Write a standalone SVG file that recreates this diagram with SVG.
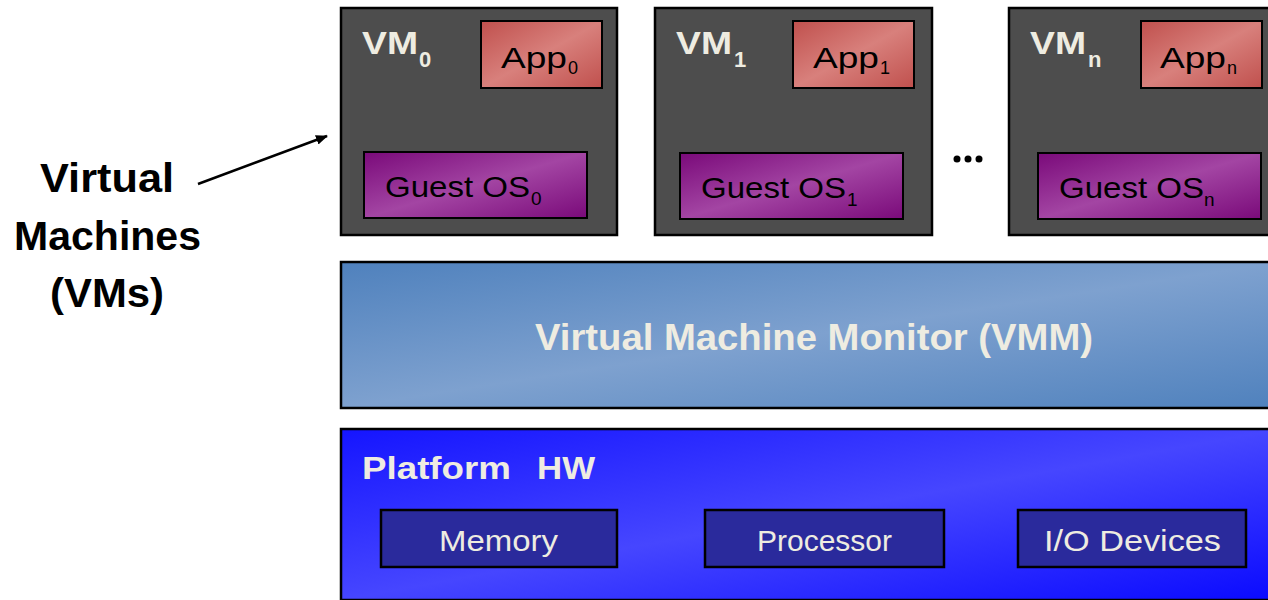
<svg xmlns="http://www.w3.org/2000/svg" width="1268" height="600" viewBox="0 0 1268 600">
  <defs>
    <linearGradient id="gApp" x1="0" y1="0" x2="1" y2="1">
      <stop offset="0" stop-color="#c0504d"/>
      <stop offset="0.5" stop-color="#d8807c"/>
      <stop offset="1" stop-color="#c0504d"/>
    </linearGradient>
    <linearGradient id="gOS" x1="0" y1="0" x2="1" y2="1">
      <stop offset="0" stop-color="#7a0a7a"/>
      <stop offset="0.5" stop-color="#a345a3"/>
      <stop offset="1" stop-color="#7a0a7a"/>
    </linearGradient>
    <linearGradient id="gVMM" x1="0" y1="0" x2="1" y2="1">
      <stop offset="0" stop-color="#4f81bd"/>
      <stop offset="0.5" stop-color="#7ea1cf"/>
      <stop offset="1" stop-color="#4f81bd"/>
    </linearGradient>
    <linearGradient id="gHW" x1="0" y1="0" x2="1" y2="1">
      <stop offset="0" stop-color="#1515ff"/>
      <stop offset="0.5" stop-color="#4646ff"/>
      <stop offset="1" stop-color="#0a0aff"/>
    </linearGradient>
    <marker id="arrow" markerWidth="12" markerHeight="10" refX="11" refY="5" orient="auto" markerUnits="userSpaceOnUse">
      <path d="M0,0 L12,5 L0,10 z" fill="#000"/>
    </marker>
  </defs>
  <style>
    text { font-family: "Liberation Sans", Arial, sans-serif; }
    .vm { fill: #4d4d4d; stroke: #000; stroke-width: 2.5; }
    .app { fill: url(#gApp); stroke: #000; stroke-width: 2; }
    .os { fill: url(#gOS); stroke: #000; stroke-width: 2; }
    .hwbox { fill: #2a2a9c; stroke: #000; stroke-width: 2.5; }
    .vmlabel { font-weight: bold; font-size: 32px; fill: #eeece1; }
    .vmsub { font-weight: bold; font-size: 22px; fill: #eeece1; }
    .inner { font-size: 30px; fill: #000; }
    .appsub { font-size: 18px; fill: #000; }
    .ossub { font-size: 19px; fill: #000; }
    .light { font-size: 29px; fill: #eeece1; }
    .side { font-weight: bold; font-size: 40px; fill: #000; }
  </style>

  <!-- side caption -->
  <g id="caption">
    <text class="side" x="40" y="192" textLength="134" lengthAdjust="spacingAndGlyphs">Virtual</text>
    <text class="side" x="14" y="250" textLength="187" lengthAdjust="spacingAndGlyphs">Machines</text>
    <text class="side" x="50" y="307" textLength="114" lengthAdjust="spacingAndGlyphs">(VMs)</text>
  </g>

  <!-- virtual machine 0 -->
  <g id="vm0">
    <rect class="vm" x="341" y="8" width="276" height="227"/>
    <text class="vmlabel" x="362" y="54" textLength="56" lengthAdjust="spacingAndGlyphs">VM</text>
    <text class="vmsub" x="419" y="67">0</text>
    <rect class="app" x="481" y="21" width="121" height="67"/>
    <text class="inner" x="501" y="68" textLength="66" lengthAdjust="spacingAndGlyphs">App</text>
    <text class="appsub" x="568" y="74">0</text>
    <rect class="os" x="364" y="152" width="223" height="66"/>
    <text class="inner" x="385" y="197" textLength="145" lengthAdjust="spacingAndGlyphs">Guest OS</text>
    <text class="ossub" x="531" y="205">0</text>
  </g>

  <!-- virtual machine 1 -->
  <g id="vm1">
    <rect class="vm" x="655" y="8" width="277" height="227"/>
    <text class="vmlabel" x="676" y="54" textLength="56" lengthAdjust="spacingAndGlyphs">VM</text>
    <text class="vmsub" x="734" y="67">1</text>
    <rect class="app" x="793" y="21" width="121" height="67"/>
    <text class="inner" x="813" y="68" textLength="66" lengthAdjust="spacingAndGlyphs">App</text>
    <text class="appsub" x="880" y="74">1</text>
    <rect class="os" x="680" y="153" width="223" height="66"/>
    <text class="inner" x="701" y="198" textLength="145" lengthAdjust="spacingAndGlyphs">Guest OS</text>
    <text class="ossub" x="847" y="206">1</text>
  </g>

  <!-- ellipsis between VMs -->
  <g id="ellipsis" fill="#000">
    <circle cx="957" cy="159" r="3.5"/>
    <circle cx="968" cy="159" r="3.5"/>
    <circle cx="979" cy="159" r="3.5"/>
  </g>

  <!-- virtual machine n -->
  <g id="vmn">
    <rect class="vm" x="1009" y="8" width="280" height="227"/>
    <text class="vmlabel" x="1030" y="54" textLength="56" lengthAdjust="spacingAndGlyphs">VM</text>
    <text class="vmsub" x="1088" y="67">n</text>
    <rect class="app" x="1141" y="21" width="121" height="67"/>
    <text class="inner" x="1160" y="68" textLength="66" lengthAdjust="spacingAndGlyphs">App</text>
    <text class="appsub" x="1227" y="74">n</text>
    <rect class="os" x="1038" y="153" width="223" height="66"/>
    <text class="inner" x="1059" y="198" textLength="145" lengthAdjust="spacingAndGlyphs">Guest OS</text>
    <text class="ossub" x="1204" y="206">n</text>
  </g>

  <!-- hypervisor layer -->
  <g id="vmm">
    <rect x="341" y="262" width="940" height="146" fill="url(#gVMM)" stroke="#000" stroke-width="2.5"/>
    <text x="535" y="350" font-weight="bold" font-size="36" fill="#eeece1" textLength="558" lengthAdjust="spacingAndGlyphs">Virtual Machine Monitor (VMM)</text>
  </g>

  <!-- hardware layer -->
  <g id="platform">
    <rect x="341" y="429" width="940" height="171" fill="url(#gHW)" stroke="#000" stroke-width="2.5"/>
    <text x="362" y="479" font-weight="bold" font-size="32" fill="#eeece1" textLength="149" lengthAdjust="spacingAndGlyphs">Platform</text>
    <text x="537" y="479" font-weight="bold" font-size="32" fill="#eeece1" textLength="58" lengthAdjust="spacingAndGlyphs">HW</text>
  </g>
  <g id="memory">
    <rect class="hwbox" x="381" y="510" width="236" height="57"/>
    <text class="light" x="439" y="551" textLength="119" lengthAdjust="spacingAndGlyphs">Memory</text>
  </g>
  <g id="processor">
    <rect class="hwbox" x="705" y="510" width="239" height="57"/>
    <text class="light" x="757" y="551" textLength="135" lengthAdjust="spacingAndGlyphs">Processor</text>
  </g>
  <g id="io">
    <rect class="hwbox" x="1018" y="510" width="228" height="57"/>
    <text class="light" x="1044" y="551" textLength="177" lengthAdjust="spacingAndGlyphs">I/O Devices</text>
  </g>

  <!-- connectors -->
  <g id="connectors">
    <line x1="198" y1="184" x2="327" y2="136" stroke="#000" stroke-width="2.5" marker-end="url(#arrow)"/>
  </g>
</svg>
